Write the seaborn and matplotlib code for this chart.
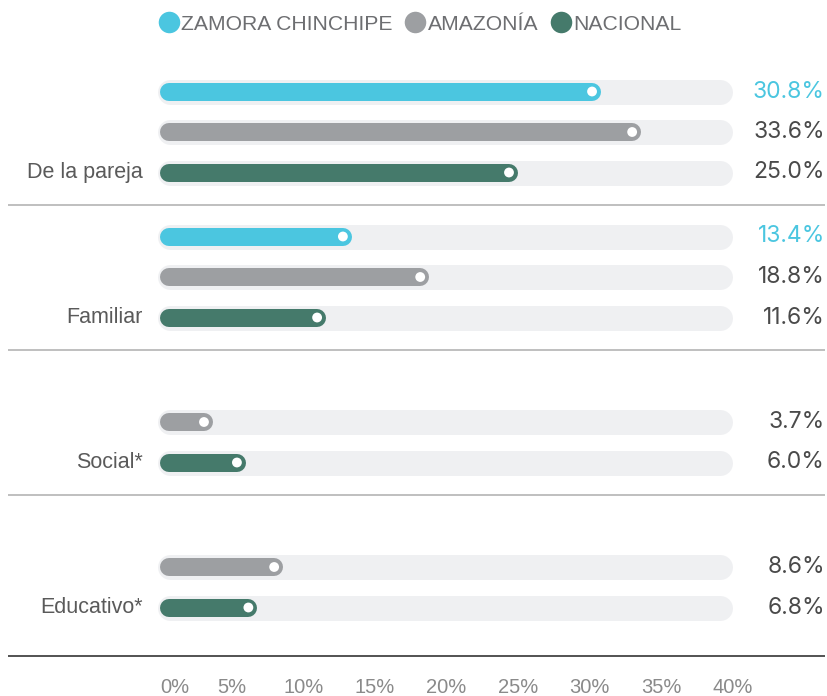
import matplotlib
matplotlib.use("Agg")
import matplotlib.pyplot as plt
from matplotlib.lines import Line2D
import numpy as np
import pandas as pd
import seaborn as sns

# data
categories = ["De la pareja", "Familiar", "Social*", "Educativo*"]
series = ["ZAMORA CHINCHIPE", "AMAZONÍA", "NACIONAL"]
zamora = [30.8, 13.4, np.nan, np.nan]
amazonia = [33.6, 18.8, 3.7, 8.6]
nacional = [25.0, 11.6, 6.0, 6.8]
tick_values = [0, 5, 10, 15, 20, 25, 30, 35, 40]
track_max = 40

colors = ["#4bc6e0", "#9d9fa2", "#457a6b"]
value_colors = ["#4bc6e0", "#4a4a4a", "#4a4a4a"]

sns.set_theme(style="white")
plt.rcParams["font.family"] = ["Liberation Sans", "DejaVu Sans"]

W, H, DPI = 828, 696, 100
PX = 72 / DPI  # points per pixel

# layout in pixels
x0_px = 160          # where 0% sits
px_per_pct = 14.32   # horizontal scale
axes_bottom_px = 668

fig = plt.figure(figsize=(W / DPI, H / DPI), dpi=DPI)
ax = fig.add_axes([0, (H - axes_bottom_px) / H, 1, axes_bottom_px / H])
ax.set_xlim(-x0_px / px_per_pct, (W - x0_px) / px_per_pct)
ax.set_ylim(axes_bottom_px, 0)
for s in ax.spines.values():
    s.set_visible(False)


def px(n):
    # pixel length -> data units along x
    return n / px_per_pct


rows = []
for g, cat in enumerate(categories):
    for s, (name, vals) in enumerate(zip(series, [zamora, amazonia, nacional])):
        rows.append({"category": cat, "series": name, "g": g, "s": s,
                     "value": vals[g], "y": 91.5 + g * 145 + s * 40.5})
df = pd.DataFrame(rows)
df = df.dropna(subset=["value"])

bar_h, track_h, track_pad = 18, 25, 3

# background tracks
tr = ax.hlines(df["y"], px(-track_pad + track_h / 2), track_max - px(track_h / 2),
               color="#eff0f2", lw=track_h * PX, zorder=1)
tr.set_capstyle("round")

# coloured bars (rounded ends)
for s, c in enumerate(colors):
    d = df[df["s"] == s]
    b = ax.hlines(d["y"], px(bar_h / 2), d["value"] - px(bar_h / 2),
                  color=c, lw=bar_h * PX, zorder=2)
    b.set_capstyle("round")

# white end dots
df["dot_x"] = df["value"] - px(bar_h / 2)
sns.scatterplot(data=df, x="dot_x", y="y", color="white", s=50,
                edgecolor="none", zorder=3, ax=ax, legend=False)

# value labels, right-aligned near the figure edge
for _, r in df.iterrows():
    ax.text(px(825 - x0_px), r["y"], f"{r['value']:.1f}%",
            ha="right", va="center", fontsize=16.5,
            family=["Inter", "DejaVu Sans"],
            color=value_colors[int(r["s"])])

# category labels next to the NACIONAL bar
for g, cat in enumerate(categories):
    ax.text(px(143 - x0_px), 91.5 + g * 145 + 2 * 40.5, cat, ha="right",
            va="center", fontsize=15.5, color="#5a5a5a")

# separators
for g in range(len(categories) - 1):
    ax.hlines(91 + g * 145 + 114, px(8 - x0_px), px(825 - x0_px),
              color="#b4b4b4", lw=1.2)
ax.hlines(656, px(8 - x0_px), px(825 - x0_px), color="#444444", lw=1.3)

# percent axis
ax.set_xticks(tick_values)
ax.set_xticklabels([f"{v}%" for v in tick_values], fontsize=14.5,
                   color="#8a8a8a")
ax.tick_params(axis="x", length=0, pad=7.5)
ax.get_xticklabels()[0].set_ha("left")
ax.set_yticks([])
ax.set_xlabel("")
ax.set_ylabel("")

handles = [Line2D([], [], marker="o", ls="", ms=15.5, color=c, mec="none")
           for c in colors]
fig.legend(handles, series, ncol=3, loc="center",
           bbox_to_anchor=(0.507, 1 - 24 / H), frameon=False,
           handletextpad=0.1, columnspacing=0.55, handlelength=1.0,
           fontsize=15.2, labelcolor="#6d6e71")

fig.savefig("out.png", dpi=DPI)
